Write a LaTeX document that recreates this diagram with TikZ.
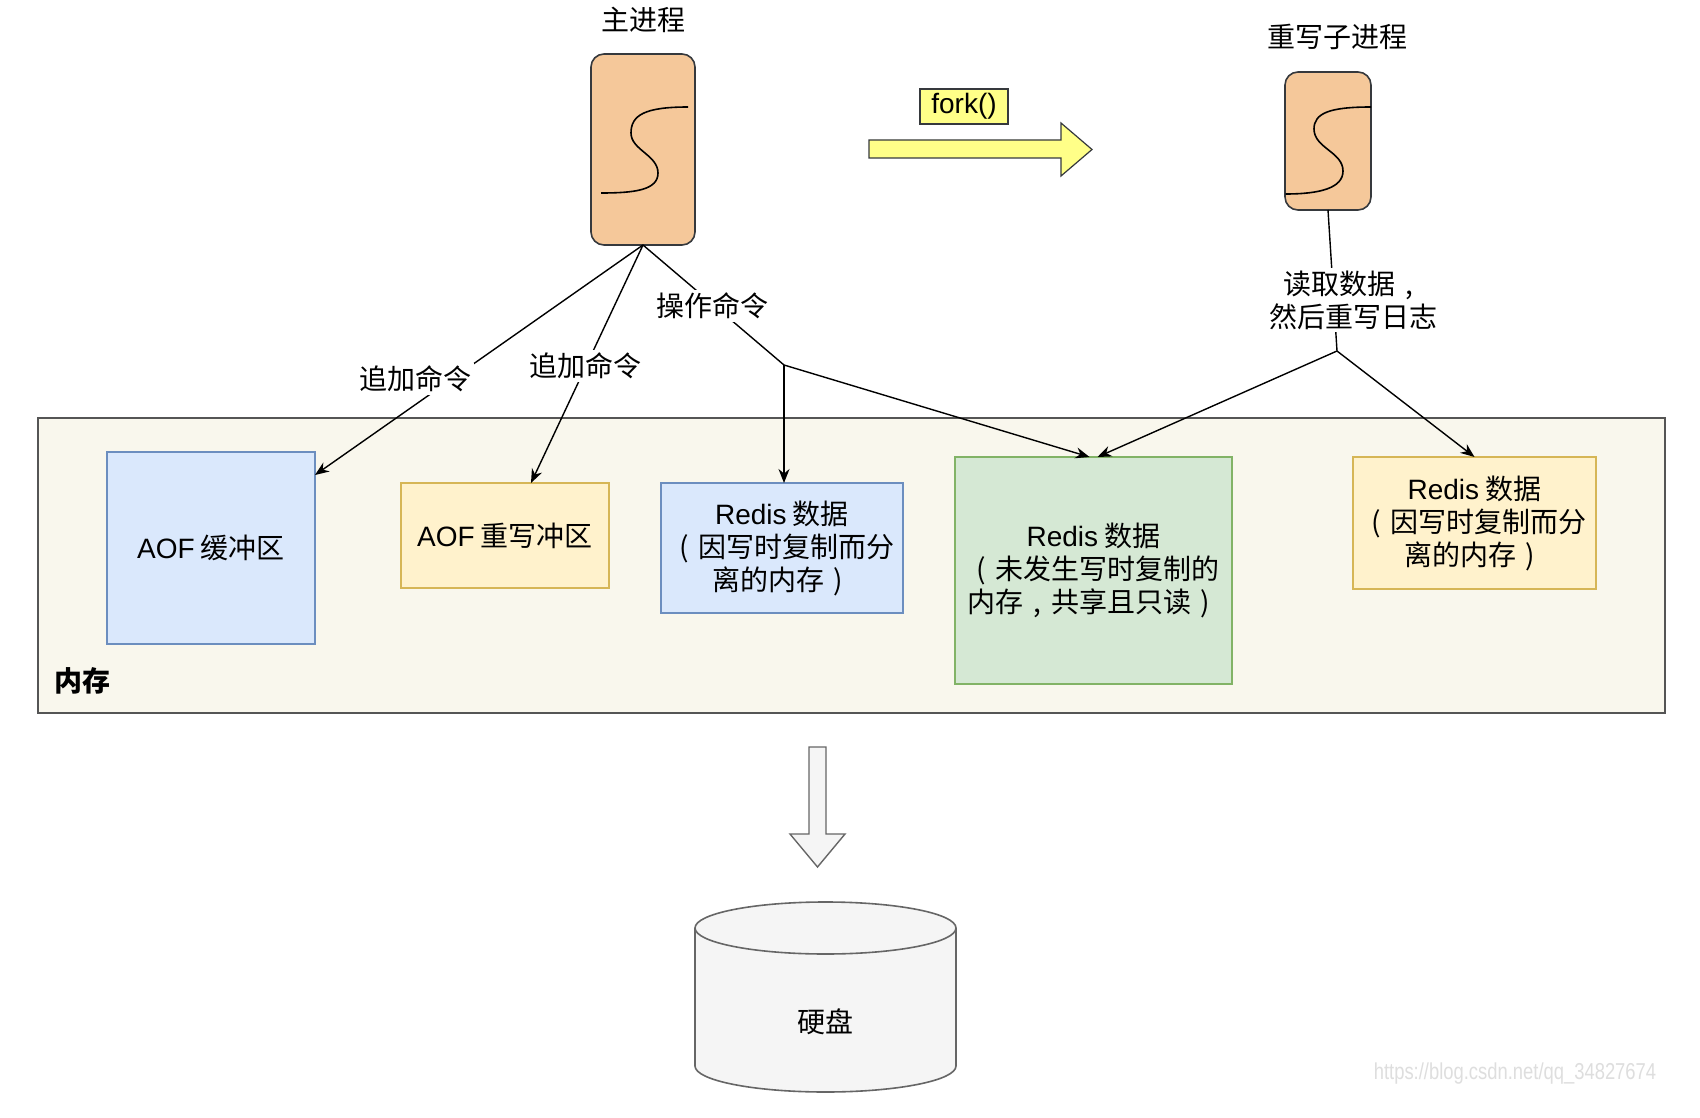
\documentclass[tikz,border=0pt]{standalone}
\usepackage{fontspec}
\setmainfont{Liberation Sans}
\newfontfamily\cjk{Noto Sans CJK SC}
\newfontfamily\lat{Liberation Sans}
\usetikzlibrary{arrows.meta}
\newcommand\fwlp{\makebox[1em][c]{(}}
\newcommand\fwrp{\makebox[1em][c]{)}}
\newcommand\fwcm{\makebox[1em][c]{,}}
\definecolor{procfill}{HTML}{F5C89A}
\definecolor{darkline}{HTML}{36393D}
\definecolor{memfill}{HTML}{F9F7ED}
\definecolor{memstroke}{HTML}{555555}
\definecolor{bluefill}{HTML}{DAE8FC}
\definecolor{bluestroke}{HTML}{6C8EBF}
\definecolor{yelfill}{HTML}{FFF2CC}
\definecolor{yelstroke}{HTML}{D6B656}
\definecolor{grnfill}{HTML}{D5E8D4}
\definecolor{grnstroke}{HTML}{82B366}
\definecolor{forkfill}{HTML}{FFFF88}
\definecolor{greyfill}{HTML}{F5F5F5}
\definecolor{greystroke}{HTML}{666666}
\begin{document}
\begin{tikzpicture}[x=1pt,y=1pt,
  txt/.style={font=\cjk\fontsize{28}{33}\selectfont, align=center, inner sep=0pt, outer sep=0pt},
  proc/.style={draw=darkline, fill=procfill, line width=1.6pt, rounded corners=13pt, inner sep=0pt, outer sep=0pt},
  boxb/.style={txt, line width=1.5pt, draw=bluestroke, fill=bluefill},
  boxy/.style={txt, line width=1.5pt, draw=yelstroke, fill=yelfill},
  boxg/.style={txt, line width=1.5pt, draw=grnstroke, fill=grnfill},
  lbl/.style={txt, fill=white, inner sep=3pt},
  conn/.style={line width=1.4pt, draw=black},
  arr/.style={conn, -{Stealth[length=14pt,width=11pt]}},
  scurve/.style={line width=1.6pt, draw=black},
]
\useasboundingbox (0,0) rectangle (1700,-1118);
\fill[white] (0,0) rectangle (1700,-1118);

% memory area
\node[draw=memstroke, fill=memfill, line width=1.6pt, minimum width=1627pt, minimum height=295pt, inner sep=0pt, outer sep=0pt] (mem) at (851.5,-565.5) {};
\node[txt, anchor=west, font=\cjk\bfseries\fontsize{28}{33}\selectfont] (memlbl) at (54,-681) {内存};

% boxes inside memory
\node[boxb, minimum width=208pt, minimum height=192pt] (aof1) at (211,-548) {{\lat AOF} 缓冲区};
\node[boxy, minimum width=208pt, minimum height=105pt] (aof2) at (505,-535.5) {{\lat AOF} 重写冲区};
\node[boxb, minimum width=242pt, minimum height=130pt] (rblue) at (782,-548) {{\lat Redis} 数据\\\fwlp 因写时复制而分\\离的内存\fwrp};
\node[boxg, minimum width=277pt, minimum height=227pt] (green) at (1093.5,-570.5) {{\lat Redis} 数据\\\fwlp 未发生写时复制的\\内存\fwcm 共享且只读\fwrp};
\node[boxy, minimum width=243pt, minimum height=132pt] (ryel) at (1474.5,-523) {{\lat Redis} 数据\\\fwlp 因写时复制而分\\离的内存\fwrp};

% processes
\node[txt] (mainlbl) at (643,-20) {主进程};
\node[proc, minimum width=104pt, minimum height=191pt] (main) at (643,-149.5) {};
\draw[scurve] (688,-107) .. controls (645,-107) and (631,-115) .. (631,-133)
  .. controls (631,-150) and (658,-155) .. (658,-173)
  .. controls (658,-190) and (635,-193) .. (601,-193);

\node[txt] (childlbl) at (1337,-37) {重写子进程};
\node[proc, minimum width=86pt, minimum height=138pt] (child) at (1328,-141) {};
\draw[scurve] (1371,-107) .. controls (1330,-107) and (1314,-113) .. (1314,-129)
  .. controls (1314,-148) and (1343,-152) .. (1343,-171)
  .. controls (1343,-188) and (1320,-194) .. (1285.5,-194);

% fork
\node[txt, draw=darkline, fill=forkfill, line width=1.2pt, minimum width=88pt, minimum height=35pt] (fork) at (964,-106.5) {\lat fork()};
\draw[draw=darkline, fill=forkfill, line width=1.2pt, line join=miter]
  (869,-140) -- (1061,-140) -- (1061,-123) -- (1092,-149.5) -- (1061,-176) -- (1061,-158) -- (869,-158) -- cycle;

% connectors from main
\coordinate (j1) at (784,-365);
\coordinate (j2) at (1337,-351);
\draw[arr] (main.south) -- ([yshift=-23pt]aof1.north east);
\draw[arr] (main.south) -- ([xshift=26pt]aof2.north);
\draw[conn] (main.south) -- (j1);
\draw[arr] (j1) -- (j1 |- rblue.north);
\draw[arr] (j1) -- ([xshift=-4pt]green.north);

% connectors from child
\draw[conn] (child.south) -- (j2);
\draw[arr] (j2) -- ([xshift=4pt]green.north);
\draw[arr] (j2) -- (ryel.north);

% labels
\node[lbl] (l1) at (415,-379) {追加命令};
\node[lbl] (l2) at (585,-366) {追加命令};
\node[lbl] (l3) at (712,-306) {操作命令};
\node[lbl] (l4) at (1353,-300) {读取数据\fwcm\\然后重写日志};

% down arrow
\draw[draw=greystroke, fill=greyfill, line width=1.4pt, line join=miter]
  (809,-747) -- (826,-747) -- (826,-834) -- (845,-834) -- (817.5,-867) -- (790,-834) -- (809,-834) -- cycle;

% disk
\draw[draw=greystroke, fill=greyfill, line width=1.6pt]
  (695,-928) -- (695,-1066) arc[start angle=180, end angle=360, x radius=130.5pt, y radius=26pt]
  -- (956,-928) arc[start angle=0, end angle=180, x radius=130.5pt, y radius=26pt] -- cycle;
\draw[draw=greystroke, line width=1.6pt]
  (956,-928) arc[start angle=0, end angle=-180, x radius=130.5pt, y radius=26pt];
\node[txt] (disk) at (825,-1022) {硬盘};

% watermark
\node[font=\lat\fontsize{23}{26}\selectfont, text=black!13, xscale=0.8, inner sep=0pt] (wm) at (1515,-1074) {https://blog.csdn.net/qq\_34827674};
\end{tikzpicture}
\end{document}
